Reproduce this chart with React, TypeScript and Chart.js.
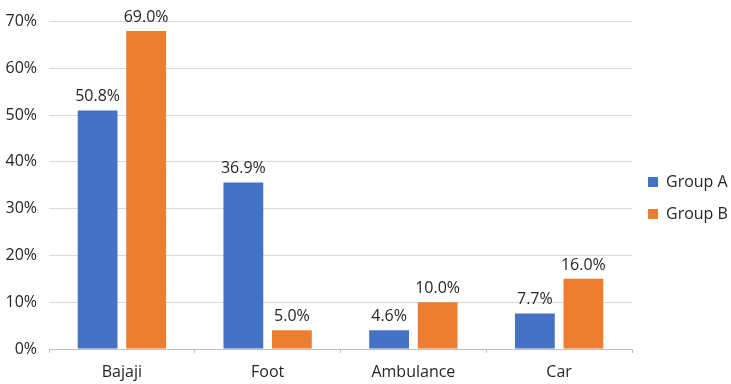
import React, { useEffect, useRef } from "react";
import { Chart, registerables } from "chart.js";

Chart.register(...registerables);

const categories = ["Bajaji", "Foot", "Ambulance", "Car"];
const seriesNames = ["Group A", "Group B"];
const groupAValues = [51.0, 35.6, 4.0, 7.6];
const groupBValues = [68.0, 4.0, 10.0, 15.0];
const groupALabels = ["50.8%", "36.9%", "4.6%", "7.7%"];
const groupBLabels = ["69.0%", "5.0%", "10.0%", "16.0%"];
const yMax = 70;
const yStep = 10;

const FONT = "'Open Sans', 'Noto Sans', sans-serif";
const TEXT = "#262626";

export default function App() {
  const ref = useRef<HTMLCanvasElement | null>(null);

  useEffect(() => {
    document.body.style.margin = "0";
    const canvas = ref.current;
    if (!canvas) return;
    const allLabels = [groupALabels, groupBLabels];

    const dataLabelPlugin = {
      id: "dataLabels",
      afterDatasetsDraw(chart: any) {
        const ctx = chart.ctx;
        ctx.save();
        ctx.font = `16px ${FONT}`;
        ctx.fillStyle = TEXT;
        ctx.textAlign = "center";
        ctx.textBaseline = "alphabetic";
        chart.data.datasets.forEach((_ds: any, di: number) => {
          const meta = chart.getDatasetMeta(di);
          meta.data.forEach((el: any, i: number) => {
            ctx.fillText(allLabels[di][i], el.x, el.y - 9);
          });
        });
        ctx.restore();
      },
    };

    const legendWidthPlugin = {
      id: "legendWidth",
      afterInit(chart: any) {
        const lg = chart.legend;
        if (!lg) return;
        const origFit = lg.fit.bind(lg);
        lg.fit = function () {
          origFit();
          this.width = 99;
        };
        const origDraw = lg.draw.bind(lg);
        lg.draw = function () {
          const ctx = this.ctx;
          ctx.save();
          ctx.translate(0, -4);
          origDraw();
          ctx.restore();
        };
      },
    };

    const chart = new Chart(canvas, {
      type: "bar",
      data: {
        labels: categories,
        datasets: [
          {
            label: seriesNames[0],
            data: groupAValues,
            backgroundColor: "#4472C4",
            borderWidth: 0,
          },
          {
            label: seriesNames[1],
            data: groupBValues,
            backgroundColor: "#ED7D31",
            borderWidth: 0,
          },
        ],
      },
      options: {
        animation: false,
        responsive: true,
        maintainAspectRatio: false,
        layout: { padding: { left: 0, top: 20, right: 0, bottom: 0 } },
        datasets: {
          bar: { categoryPercentage: 0.666, barPercentage: 0.82 },
        },
        plugins: {
          tooltip: { enabled: false },
          legend: {
            position: "right",
            labels: {
              boxWidth: 10,
              boxHeight: 10,
              padding: 16,
              color: TEXT,
              font: { family: FONT, size: 16 },
            },
          },
        },
        scales: {
          x: {
            grid: {
              display: true,
              drawOnChartArea: false,
              drawTicks: true,
              tickLength: 4,
              offset: true,
              color: "#bfbfbf",
            },
            border: { display: true, color: "#bfbfbf", width: 1 },
            ticks: {
              color: TEXT,
              font: { family: FONT, size: 16 },
              padding: 10,
            },
            afterFit(scale: any) {
              scale.height = 35;
            },
          },
          y: {
            min: 0,
            max: yMax,
            ticks: {
              stepSize: yStep,
              color: TEXT,
              font: { family: FONT, size: 16 },
              padding: 12,
              callback: (v: any) => `${v}%`,
            },
            grid: { color: "#d9d9d9", drawTicks: false },
            border: { display: false },
            afterFit(scale: any) {
              scale.width = 49;
            },
          },
        },
      },
      plugins: [dataLabelPlugin, legendWidthPlugin],
    });

    return () => chart.destroy();
  }, []);

  return (
    <div style={{ position: "relative", width: 731, height: 384 }}>
      <canvas ref={ref} />
    </div>
  );
}
